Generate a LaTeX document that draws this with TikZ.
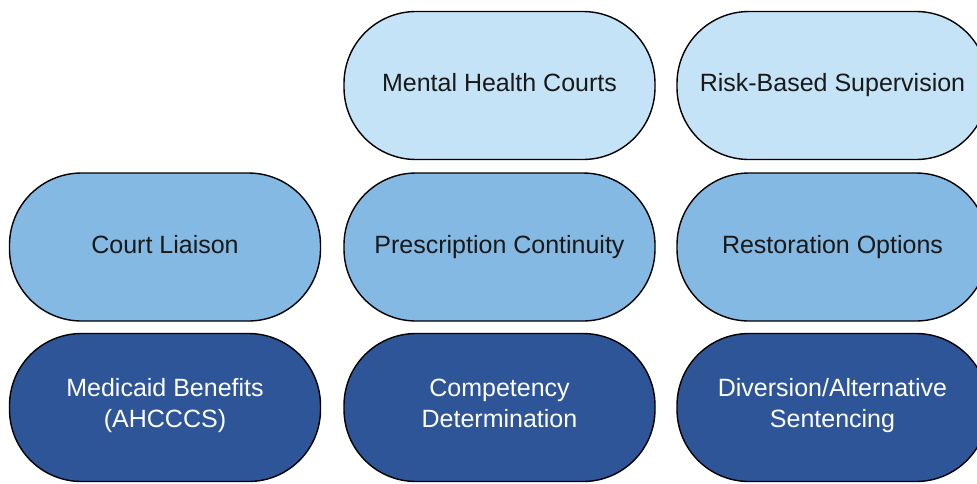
\documentclass[tikz,border=0pt]{standalone}
\usepackage{fontspec}
\setmainfont{Liberation Sans}
\definecolor{paleblue}{HTML}{C4E3F6}
\definecolor{midblue}{HTML}{84B9E3}
\definecolor{deepblue}{HTML}{2E5597}
\begin{document}
\begin{tikzpicture}[x=1pt,y=-1pt,
	pill/.style={draw=black,line width=1.4pt,rectangle,rounded corners=72pt,minimum width=311pt,minimum height=148pt,inner sep=0pt,align=center,font=\fontsize{25}{31}\selectfont,execute at begin node=\strut,execute at end node=\strut},
	palepill/.style={pill,fill=paleblue,text=black!90},
	midpill/.style={pill,fill=midblue,text=black!90},
	deeppill/.style={pill,fill=deepblue,text=white}]
	\useasboundingbox (0,0) rectangle (977,483);
	\clip (0,0) rectangle (977,483);
	\node[palepill] (courts) at (499.5,85.5) {Mental Health Courts};
	\node[palepill] (supervision) at (832.5,85.5) {Risk-Based Supervision};
	\node[midpill] (liaison) at (165,247) {Court Liaison};
	\node[midpill] (prescription) at (499.5,247) {Prescription Continuity};
	\node[midpill] (restoration) at (832.5,247) {Restoration Options};
	\node[deeppill] (medicaid) at (165,407.5) {Medicaid Benefits\\(AHCCCS)};
	\node[deeppill] (competency) at (499.5,407.5) {Competency\\Determination};
	\node[deeppill] (diversion) at (832.5,407.5) {Diversion/Alternative\\Sentencing};
\end{tikzpicture}
\end{document}
